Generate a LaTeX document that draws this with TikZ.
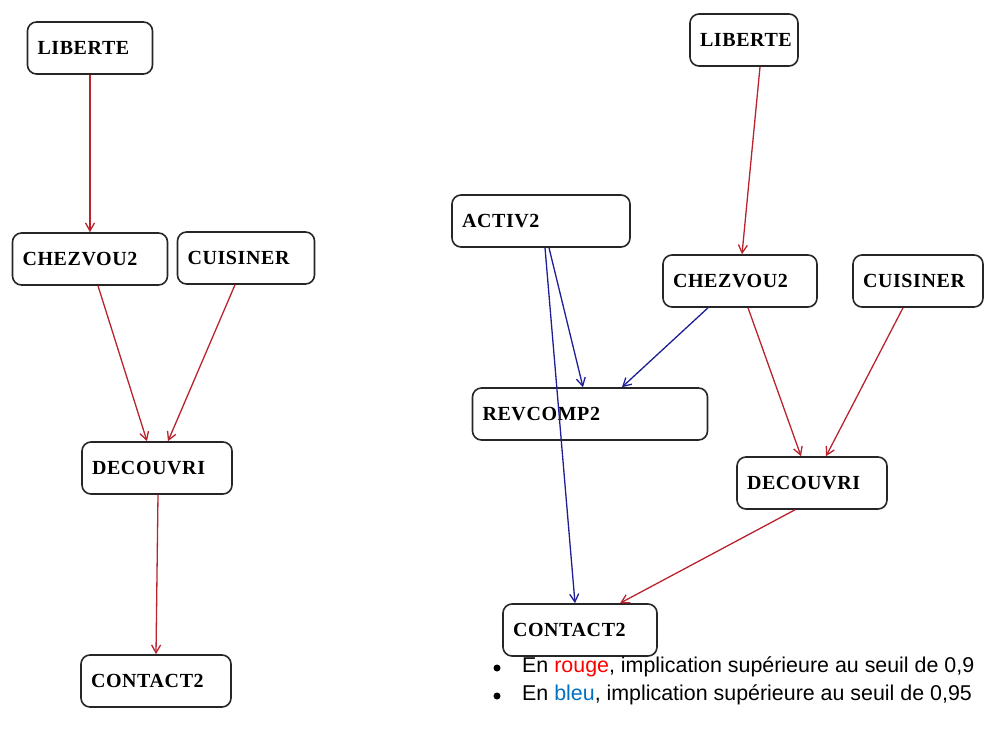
\documentclass[tikz,border=0pt]{standalone}
\usepackage{fontspec}
\setmainfont{Liberation Serif}
\newfontfamily\legendfont{Liberation Sans}
\newfontfamily\boxfont[LetterSpace=3]{Liberation Serif}
\usetikzlibrary{arrows.meta}
\definecolor{edgered}{RGB}{185,35,45}
\definecolor{edgeblue}{RGB}{30,30,150}
\definecolor{legred}{RGB}{255,0,0}
\definecolor{legblue}{RGB}{0,112,192}
\tikzset{
  box/.style={draw=black!85, line width=1.6pt, rounded corners=9pt, minimum height=52pt,
    inner xsep=10pt, inner ysep=0pt, align=left,
    font=\boxfont\fontsize{20}{22}\selectfont\bfseries},
  redarrow/.style={draw=edgered, line width=1.3pt, -{Straight Barb[length=8pt,width=9pt]}},
  bluearrow/.style={draw=edgeblue, line width=1.3pt, -{Straight Barb[length=8pt,width=9pt]}},
  legend/.style={anchor=west, inner sep=0pt, font=\legendfont\fontsize{21.4}{24}\selectfont},
  bullet/.style={circle, fill=black, inner sep=0pt, minimum size=7pt}
}
\begin{document}
\begin{tikzpicture}[x=1pt,y=-1pt]
\useasboundingbox (0,0) rectangle (984,738);
% left graph
\node[box, text width=105pt] (llib) at (90,48) {LIBERTE};
\node[box, text width=135pt] (lchez) at (90,259) {CHEZVOU2};
\node[box, text width=117pt] (lcuis) at (246,258) {CUISINER};
\node[box, text width=130pt] (ldec) at (157,468) {DECOUVRI};
\node[box, text width=130pt] (lcont) at (156,681) {CONTACT2};
\draw[redarrow] (llib.south) -- (lchez.north);
\draw[redarrow] ([xshift=8pt]lchez.south) -- ([xshift=-10pt]ldec.north);
\draw[redarrow] ([xshift=-11pt]lcuis.south) -- ([xshift=11pt]ldec.north);
\draw[redarrow] ([xshift=1pt]ldec.south) -- (lcont.north);
% right graph
\node[box, text width=88pt] (rlib) at (744,40) {LIBERTE};
\node[box, text width=158pt] (ract) at (541,221) {ACTIV2};
\node[box, text width=134pt] (rchez) at (740,281) {CHEZVOU2};
\node[box, text width=110pt] (rcuis) at (918,281) {CUISINER};
\node[box, text width=215pt] (rrev) at (590,414) {REVCOMP2};
\node[box, text width=130pt] (rdec) at (812,483) {DECOUVRI};
\node[box, text width=134pt] (rcont) at (580,630) {CONTACT2};
\draw[redarrow] ([xshift=16pt]rlib.south) -- ([xshift=2pt]rchez.north);
\draw[bluearrow] ([xshift=8pt]ract.south) -- ([xshift=-7pt]rrev.north);
\draw[bluearrow] ([xshift=4pt]ract.south) -- ([xshift=-5pt]rcont.north);
\draw[bluearrow] ([xshift=-32pt]rchez.south) -- ([xshift=32pt]rrev.north);
\draw[redarrow] ([xshift=8pt]rchez.south) -- ([xshift=-11pt]rdec.north);
\draw[redarrow] ([xshift=-15pt]rcuis.south) -- ([xshift=14pt]rdec.north);
\draw[redarrow] ([xshift=-17pt]rdec.south) -- ([xshift=40pt]rcont.north);
% legend
\node[bullet] (b1) at (497,668) {};
\node[bullet] (b2) at (497,696) {};
\node[legend] (t1) at (522,667) {En \textcolor{legred}{rouge}, implication supérieure au seuil de 0,9};
\node[legend] (t2) at (522,695) {En \textcolor{legblue}{bleu}, implication supérieure au seuil de 0,95};
\end{tikzpicture}
\end{document}
